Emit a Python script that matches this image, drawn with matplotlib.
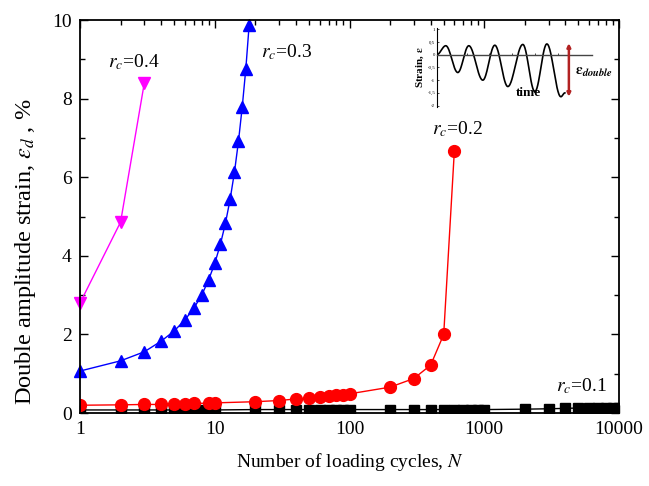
import numpy as np
import matplotlib
matplotlib.use('Agg')
import matplotlib.pyplot as plt
from matplotlib.ticker import LogLocator, MultipleLocator, FixedFormatter, FixedLocator

plt.rcParams['font.family'] = ['Liberation Serif', 'DejaVu Serif']
plt.rcParams['mathtext.fontset'] = 'stix'

# r_c = 0.1
n_01 = [1, 2, 3, 4, 5, 6, 7, 8, 9, 10, 20, 30, 40, 50, 60, 70, 80, 90, 100,
        200, 300, 400, 500, 600, 700, 800, 900, 1000,
        2000, 3000, 4000, 5000, 6000, 7000, 8000, 9000, 10000]
e_01 = [0.08, 0.08, 0.08, 0.08, 0.08, 0.08, 0.08, 0.08, 0.08, 0.08, 0.09, 0.09, 0.09, 0.09, 0.09,
        0.09, 0.09, 0.09, 0.09, 0.09, 0.09, 0.09, 0.09, 0.09, 0.09, 0.09, 0.09, 0.09,
        0.10, 0.11, 0.12, 0.13, 0.13, 0.13, 0.14, 0.14, 0.14]

# r_c = 0.2
n_02 = [1, 2, 3, 4, 5, 6, 7, 9, 10, 20, 30, 40, 50, 60, 70, 80, 90, 100,
        200, 300, 400, 500, 600]
e_02 = [0.20, 0.21, 0.22, 0.22, 0.23, 0.24, 0.25, 0.25, 0.26, 0.29, 0.32, 0.36, 0.38, 0.41,
        0.43, 0.45, 0.47, 0.49, 0.66, 0.88, 1.22, 2.0, 6.68]

# r_c = 0.3
n_03 = [1, 2, 3, 4, 5, 6, 7, 8, 9, 10, 11, 12, 13, 14, 15, 16, 17, 18]
e_03 = [1.07, 1.33, 1.56, 1.83, 2.09, 2.37, 2.67, 3.0, 3.39, 3.81, 4.29, 4.83, 5.44,
        6.13, 6.92, 7.8, 8.76, 9.88]

# r_c = 0.4
n_04 = [1, 2, 3]
e_04 = [2.8, 4.86, 8.4]

# inset schematic: extreme points of the strain-time wave
wave_t = [0, 9, 21, 32, 46, 58, 71, 86, 98, 110, 124, 128]
wave_e = [0, 0.35, -0.7, 0.35, -1.0, 0.37, -1.25, 0.4, -1.45, 0.42, -1.65, -1.5]
inset_ticks = [1, 0.5, 0, -0.5, -1, -1.5, -2]
inset_labels = ['1', '0,5', '0', '-0,5', '-1', '-1,5', '-2']

fig = plt.figure(figsize=(6.49, 4.86), dpi=100)
ax = fig.add_axes([0.1233, 0.150, 0.8305, 0.8088])

ax.plot(n_01, e_01, '-s', color='black', lw=1, ms=7, mec='black')
ax.plot(n_02, e_02, '-o', color='#ff0000', lw=1, ms=8.5, mec='#ff0000')
ax.plot(n_03, e_03, '-^', color='#0000ff', lw=1, ms=9, mec='#0000ff', clip_on=False)
ax.plot(n_04, e_04, '-v', color='#ff00ff', lw=1, ms=9, mec='#ff00ff', clip_on=False)

ax.set_xscale('log')
ax.set_xlim(1, 10000)
ax.set_ylim(0, 10)
ax.set_xticks([1, 10, 100, 1000, 10000])
ax.set_xticklabels(['1', '10', '100', '1000', '10000'])
ax.xaxis.set_minor_locator(LogLocator(base=10, subs=np.arange(2, 10), numticks=20))
ax.yaxis.set_major_locator(MultipleLocator(2))
ax.yaxis.set_minor_locator(MultipleLocator(1))
ax.tick_params(which='both', direction='in', top=True, right=True, labelsize=14, width=1)
ax.tick_params(which='major', length=6, pad=6)
ax.tick_params(which='minor', length=3.5)
for s in ax.spines.values():
    s.set_linewidth(1.3)

ax.set_xlabel('Number of loading cycles, $N$', fontsize=14, labelpad=9)
ax.set_ylabel(r'Double amplitude strain, $\varepsilon_d$ , %', fontsize=17.5)
ax.yaxis.set_label_coords(-0.078, 0.41)

lab = dict(fontsize=14, ha='left', va='baseline')
ax.text(1.6, 8.8, r'$r_c$=0.4', **lab)
ax.text(22, 9.05, r'$r_c$=0.3', **lab)
ax.text(410, 7.1, r'$r_c$=0.2', **lab)
ax.text(3400, 0.55, r'$r_c$=0.1', **lab)

# inset
ins = fig.add_axes([0.673, 0.78, 0.239, 0.1626])
ts, es = [], []
for i in range(len(wave_t) - 1):
    u = np.linspace(0, 1, 30)
    s = (1 - np.cos(np.pi * u)) / 2
    ts.extend(wave_t[i] + (wave_t[i + 1] - wave_t[i]) * u)
    es.extend(wave_e[i] + (wave_e[i + 1] - wave_e[i]) * s)
ins.plot(ts, es, color='black', lw=1.2)
ins.set_xlim(0, 155)
ins.set_ylim(-2.05, 1.05)
ins.patch.set_alpha(0)
ins.spines['top'].set_visible(False)
ins.spines['right'].set_visible(False)
ins.spines['bottom'].set_position(('data', 0))
ins.spines['left'].set_linewidth(0.8)
ins.spines['bottom'].set_linewidth(1.0)
ins.spines['bottom'].set_color('#444444')
ins.yaxis.set_major_locator(FixedLocator(inset_ticks))
ins.yaxis.set_major_formatter(FixedFormatter(inset_labels))
ins.set_xticks([30, 52, 75, 98, 121])
ins.set_xticklabels([])
ins.tick_params(axis='y', labelsize=3.5, length=1.5, width=0.5, pad=1, direction='in')
ins.tick_params(axis='x', length=1.5, width=0.5, direction='in')
ins.set_ylabel(r'Strain, $\mathbf{\varepsilon}$', fontsize=8, fontweight='bold', labelpad=1)
ins.text(79, -1.5, 'time', fontsize=9.5, fontweight='bold', ha='left', va='center')
ins.annotate('', xy=(132, 0.45), xytext=(132, -1.65),
             arrowprops=dict(arrowstyle='<->', color='#b22222', lw=1.8,
                             mutation_scale=5, shrinkA=0, shrinkB=0))
ins.text(138, -0.7, r'$\boldsymbol{\varepsilon}_{\boldsymbol{double}}$', fontsize=11,
         ha='left', va='center', clip_on=False)

fig.savefig('out.png', dpi=100)
